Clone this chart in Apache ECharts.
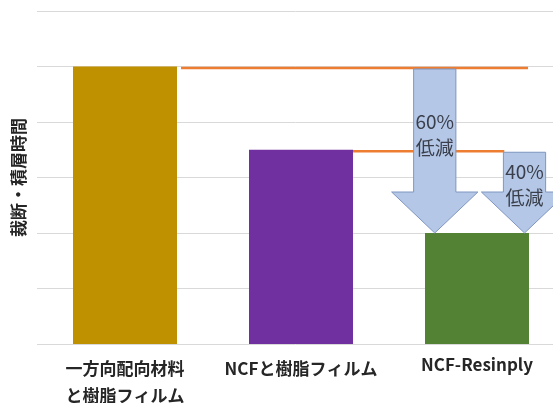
<!DOCTYPE html>
<html>
<head>
<meta charset="utf-8">
<script src="https://cdn.jsdelivr.net/npm/echarts@6/dist/echarts.min.js"></script>
<style>
  html, body { margin: 0; padding: 0; background: #fff; }
  #main { width: 553px; height: 403px; }
</style>
</head>
<body>
<div id="main"></div>
<script>
// 裁断・積層時間の比較
const categories = ['一方向配向材料\nと樹脂フィルム', 'NCFと樹脂フィルム', 'NCF-Resinply']
const times = [5, 3.5, 2]
const barColors = ['#BF9000', '#7030A0', '#548235']
const reductionLabels = ['60%\n低減', '40%\n低減']
const yTicks = [0, 1, 2, 3, 4, 5, 6]

const font = "'Noto Sans CJK JP', 'Noto Sans', sans-serif"
const barWidth = 104

const chart = echarts.init(document.getElementById('main'))

// 矢印の位置（NCF-Resinply の棒からのずれ、カテゴリ幅に対する比）
const arrowOffset = [-0.24, 0.27]
// 横線の終点（NCF-Resinply の中心からのずれ）
const lineEnd = [0.29, 0.155]

chart.setOption({
  animation: false,
  grid: { left: 37, right: -12, top: 11, bottom: 59, outerBoundsMode: 'none', containLabel: false },
  xAxis: {
    type: 'category',
    data: categories,
    axisLine: { show: false },
    axisTick: { show: false },
    axisLabel: {
      interval: 0,
      margin: 11,
      fontFamily: font,
      fontSize: 17,
      fontWeight: 'bold',
      color: '#262626',
      lineHeight: 27,
      formatter: function (v, i) {
        return i === 2 ? '{b|' + v + '}' : v
      },
      rich: {
        b: { lineHeight: 20, fontSize: 17, fontWeight: 'bold', fontFamily: font, color: '#262626' }
      }
    }
  },
  yAxis: {
    type: 'value',
    min: yTicks[0],
    max: yTicks[yTicks.length - 1],
    interval: 1,
    name: '裁断・積層時間',
    nameLocation: 'middle',
    nameRotate: 90,
    nameGap: 10,
    nameTextStyle: { fontFamily: font, fontSize: 17, fontWeight: 'bold', color: '#262626' },
    axisLabel: { show: false },
    axisLine: { show: false },
    axisTick: { show: false },
    splitLine: { lineStyle: { color: '#D9D9D9', width: 1 } }
  },
  series: [
    {
      type: 'bar',
      barWidth: barWidth,
      data: times.map((v, i) => ({ value: v, itemStyle: { color: barColors[i] } })),
      z: 1
    },
    {
      // オレンジの横線
      type: 'custom',
      z: 2,
      data: reductionLabels.map((l, i) => i),
      renderItem: function (params, api) {
        const i = params.dataIndex
        const band = api.size([1, 0])[0]
        const start = api.coord([i, times[i]])
        const target = api.coord([2, times[i]])
        const y = start[1] + 1.5
        return {
          type: 'line',
          shape: {
            x1: start[0] + barWidth / 2 + (i === 0 ? 4 : 0),
            y1: y,
            x2: target[0] + lineEnd[i] * band,
            y2: y
          },
          style: { stroke: '#ED7D31', lineWidth: 2.5 }
        }
      }
    },
    {
      // 低減を示す矢印
      type: 'custom',
      z: 3,
      data: reductionLabels.map((l, i) => i),
      renderItem: function (params, api) {
        const i = params.dataIndex
        const band = api.size([1, 0])[0]
        const top = api.coord([2, times[i]])
        const tip = api.coord([2, times[2]])
        const cx = top[0] + arrowOffset[i] * band
        const yTop = top[1] + 2.5
        const yTip = tip[1]
        const sw = 0.12 * band
        const hw = 0.245 * band
        const yBase = yTip - 41
        return {
          type: 'group',
          children: [
            {
              type: 'polygon',
              shape: {
                points: [
                  [cx - sw, yTop], [cx + sw, yTop], [cx + sw, yBase], [cx + hw, yBase],
                  [cx, yTip], [cx - hw, yBase], [cx - sw, yBase]
                ]
              },
              style: { fill: '#B4C7E7', stroke: '#7F96C0', lineWidth: 1 }
            },
            {
              type: 'text',
              x: cx,
              y: yTop + 0.4 * (yTip - yTop),
              style: {
                text: reductionLabels[i],
                fontFamily: font,
                fontSize: 19,
                lineHeight: 26,
                fill: '#3A3F4B',
                align: 'center',
                verticalAlign: 'middle'
              }
            }
          ]
        }
      }
    }
  ]
})
</script>
</body>
</html>
